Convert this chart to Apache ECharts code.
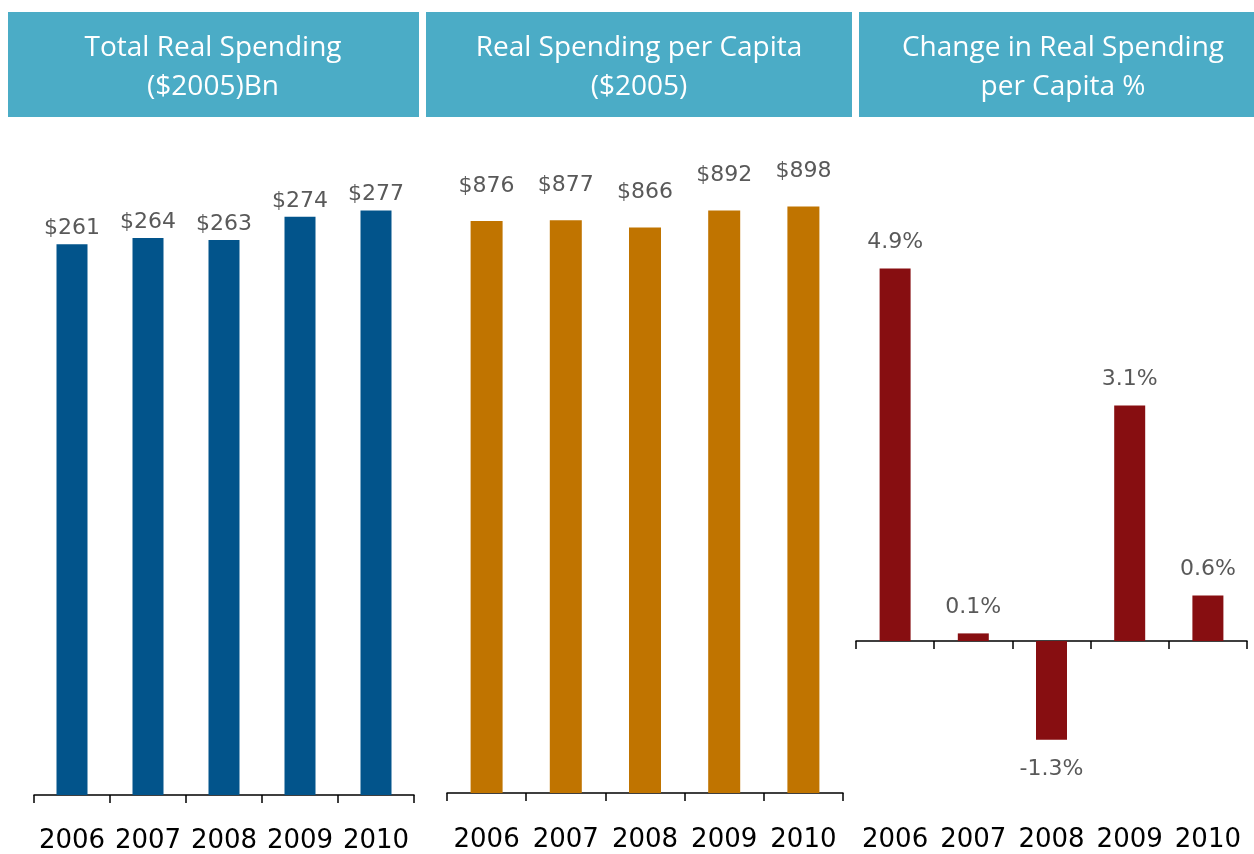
<!DOCTYPE html>
<html>
<head>
<meta charset="utf-8">
<script src="https://cdn.jsdelivr.net/npm/echarts@6/dist/echarts.min.js"></script>
<style>
html,body{margin:0;padding:0;background:#fff;}
#chart{width:1254px;height:854px;}
</style>
</head>
<body>
<div id="chart"></div>
<script>
const years = ['2006', '2007', '2008', '2009', '2010'];
const totalSpending = [261, 264, 263, 274, 277];
const perCapita = [876, 877, 866, 892, 898];
const changePct = [4.9, 0.1, -1.3, 3.1, 0.6];
const headers = [
  ['Total Real Spending', '($2005)Bn'],
  ['Real Spending per Capita', '($2005)'],
  ['Change in Real Spending', 'per Capita %']
];

const chart = echarts.init(document.getElementById('chart'), null, {renderer: 'canvas'});

const labelFont = 'DejaVu Sans';
const headerBoxes = [
  {x: 8, w: 411, cx: 213},
  {x: 426, w: 426, cx: 639},
  {x: 859, w: 400, cx: 1063}
];
const graphics = [];
headerBoxes.forEach((b, i) => {
  graphics.push({type: 'rect', left: b.x, top: 12, shape: {width: b.w, height: 105}, style: {fill: '#4BACC6'}, z: 0});
  headers[i].forEach((line, j) => {
    graphics.push({
      type: 'text', x: b.cx, y: 48 + j * 39, z: 1,
      style: {text: line, fill: '#ffffff', font: '28px "Open Sans"', textAlign: 'center', textVerticalAlign: 'middle'}
    });
  });
});

const axisLineStyle = {color: '#000', width: 1.5};
const tick = {show: true, length: 8, interval: 0, lineStyle: axisLineStyle};
const yearLabel = {show: true, interval: 0, hideOverlap: false, color: '#000', fontFamily: labelFont, fontSize: 26, margin: 33};

chart.setOption({
  animation: false,
  graphic: graphics,
  grid: [
    {left: 34, right: 840, top: 162, bottom: 57},
    {left: 447, right: 411, top: 140, bottom: 61},
    {left: 856, right: 7, top: 185, bottom: 61}
  ],
  xAxis: [
    {type: 'category', gridIndex: 0, data: years, axisLine: {lineStyle: axisLineStyle}, axisTick: tick, axisLabel: yearLabel},
    {type: 'category', gridIndex: 1, data: years, axisLine: {lineStyle: axisLineStyle}, axisTick: tick, axisLabel: Object.assign({}, yearLabel, {margin: 34})},
    {type: 'category', gridIndex: 2, data: years, position: 'bottom', axisLine: {onZero: true, lineStyle: axisLineStyle}, axisTick: tick, axisLabel: {show: false}},
    {type: 'category', gridIndex: 2, data: years, position: 'bottom', axisLine: {show: false, onZero: false}, axisTick: {show: false}, axisLabel: Object.assign({}, yearLabel, {margin: 34})}
  ],
  yAxis: [
    {type: 'value', gridIndex: 0, min: 0, max: 300, show: false},
    {type: 'value', gridIndex: 1, min: 0, max: 1000, show: false},
    {type: 'value', gridIndex: 2, min: -2, max: 6, show: false}
  ],
  series: [
    {
      type: 'bar', xAxisIndex: 0, yAxisIndex: 0, data: totalSpending, barWidth: 31,
      itemStyle: {color: '#02548B'},
      label: {show: true, position: 'top', distance: 5, color: '#595959', fontFamily: labelFont, fontSize: 22, formatter: p => '$' + p.value}
    },
    {
      type: 'bar', xAxisIndex: 1, yAxisIndex: 1, data: perCapita, barWidth: 32,
      itemStyle: {color: '#C07400'},
      label: {show: true, position: 'top', distance: 24, color: '#595959', fontFamily: labelFont, fontSize: 22, formatter: p => '$' + p.value}
    },
    {
      type: 'bar', xAxisIndex: 2, yAxisIndex: 2, barWidth: 31,
      data: changePct.map(v => ({value: v, label: {position: v < 0 ? 'bottom' : 'top', distance: v < 0 ? 18 : 15}})),
      itemStyle: {color: '#870E11'},
      label: {show: true, color: '#595959', fontFamily: labelFont, fontSize: 22, formatter: p => p.value.toFixed(1) + '%'}
    }
  ]
});
</script>
</body>
</html>
